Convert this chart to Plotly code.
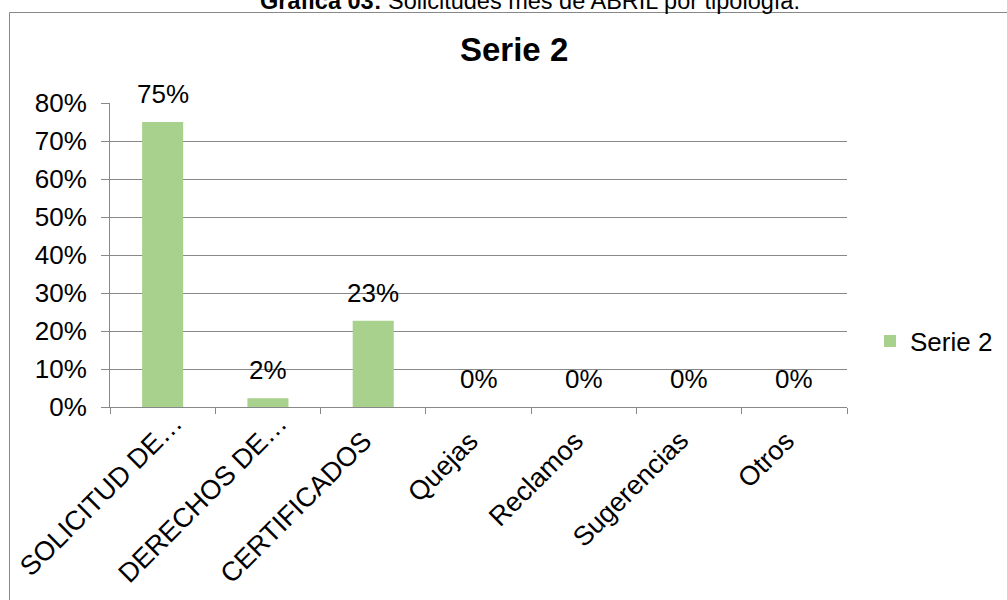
import plotly.graph_objects as go

categories = ["SOLICITUD DE…", "DERECHOS DE…", "CERTIFICADOS", "Quejas", "Reclamos", "Sugerencias", "Otros"]
values = [0.75, 0.023, 0.227, 0.0, 0.0, 0.0, 0.0]
series_name = "Serie 2"
y_ticks = [0, 0.1, 0.2, 0.3, 0.4, 0.5, 0.6, 0.7, 0.8]

W, H = 1007, 600
L, R, T, B = 110, 847, 103, 407  # plot area pixels

def px(x):
    return (x - L) / (R - L)

def py(y):
    return (B - y) / (B - T)

FONT = "Arial, Liberation Sans, sans-serif"
FS = 26
FSX = 27

fig = go.Figure()
fig.add_trace(go.Bar(
    x=categories, y=values, name=series_name,
    marker=dict(color="#A9D18E", line=dict(width=0)),
    width=0.39,
    showlegend=True,
))

label_annotations = [
    dict(x=c, y=v, xref="x", yref="y", text=f"{v:.0%}", showarrow=False,
         xanchor="center", yanchor="middle", yshift=28,
         font=dict(size=FS, family=FONT, color="#000000"))
    for c, v in zip(categories, values)
]

# category labels drawn as rotated annotations anchored at each category
tick_annotations = []
for c in categories:
    truncated = c.endswith("…")
    tick_annotations.append(dict(
        x=c, y=0, xref="x", yref="paper", text=c, showarrow=False,
        textangle=-45, xanchor="right", yanchor="top",
        xshift=28 if truncated else 8, yshift=2 if truncated else -16,
        font=dict(size=FSX, family=FONT, color="#000000")))

fig.update_layout(
    width=W, height=H,
    margin=dict(l=L, r=W - R, t=T, b=H - B, pad=0, autoexpand=False),
    paper_bgcolor="white", plot_bgcolor="white",
    font=dict(family=FONT, color="#000000"),
    showlegend=True,
    legend=dict(x=px(870), y=py(341), xanchor="left", yanchor="middle",
                font=dict(size=FS, family=FONT), itemwidth=30, bgcolor="rgba(0,0,0,0)"),
    xaxis=dict(
        type="category", showticklabels=False, automargin=False,
        showline=True, linecolor="#888888", linewidth=1,
        ticks="outside", tickson="boundaries", ticklen=6, tickcolor="#888888",
        showgrid=False, range=[-0.5, 6.5],
    ),
    yaxis=dict(
        range=[0, 0.8], tickvals=y_ticks, tickformat=".0%", automargin=False,
        tickfont=dict(size=FS, family=FONT),
        showline=True, linecolor="#888888", linewidth=1,
        ticks="outside", ticklen=8, tickcolor="#888888",
        ticklabelstandoff=9,
        showgrid=True, gridcolor="#888888", gridwidth=1, zeroline=False,
    ),
    shapes=[dict(type="rect", xref="paper", yref="paper",
                 x0=px(9.5), x1=px(1015), y0=py(12.5), y1=py(610),
                 line=dict(color="#888888", width=1), fillcolor="rgba(0,0,0,0)", layer="below")],
    annotations=label_annotations + tick_annotations + [
        dict(text="<b>Serie 2</b>", xref="paper", yref="paper", x=px(514), y=py(50),
             xanchor="center", yanchor="middle", showarrow=False,
             font=dict(size=33, family=FONT, color="#000000")),
        dict(text="<b>Gráfica 03:</b> Solicitudes mes de ABRIL por tipología.",
             xref="paper", yref="paper", x=px(530), y=py(1),
             xanchor="center", yanchor="middle", showarrow=False,
             font=dict(size=23.5, family=FONT, color="#000000")),
    ],
)

fig.write_html("out.html", config={"displayModeBar": False},
               post_script="document.body.style.margin='0';document.body.style.overflow='hidden';")
